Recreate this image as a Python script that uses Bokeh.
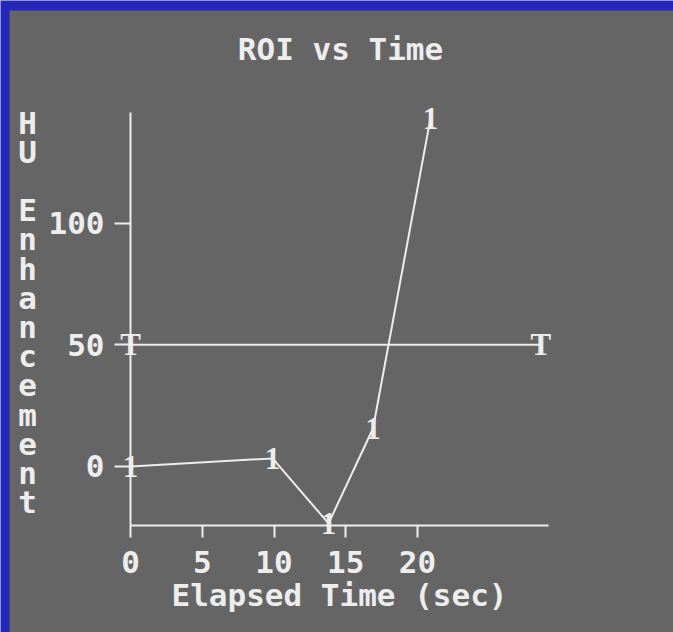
from bokeh.plotting import figure
from bokeh.models import ColumnDataSource, LabelSet, Label, FixedTicker, Range1d, BoxAnnotation
from bokeh.embed import file_html
from bokeh.resources import INLINE

# ---- data ----
title_text = "ROI vs Time"
x_label = "Elapsed Time (sec)"
y_label = "HU Enhancement"

time_s = [0, 9.9, 13.8, 16.9, 20.9]
roi_hu = [0, 3.3, -23.4, 15.6, 142.9]
roi_marker = "1"

thr_time = [0, 28.6]
thr_hu = [50, 50]
thr_marker = "T"

x_ticks = [0, 5, 10, 15, 20]
y_ticks = [0, 50, 100]
x_axis_span = (0, 29.13)
y_axis_span = (-24.2, 145.4)

# ---- style ----
BG = "#656565"
BLUE = "#2626b8"
FG = "#ededed"
FONT = "DejaVu Sans Mono"
FS = "31px"
W, H = 673, 632

# the frame fills the whole canvas; axes are placed with fixed_location
p = figure(width=W, height=H, min_border=0,
           x_range=Range1d(-9.06, 37.84), y_range=Range1d(-68.2, 191.4),
           output_backend="svg", toolbar_location=None,
           background_fill_color=BLUE, border_fill_color=BLUE,
           outline_line_color=None)
p.grid.visible = False

# grey panel inside the blue border
p.add_layout(BoxAnnotation(left=-8.43, top=187.3, fill_color=BG, fill_alpha=1.0,
                           line_color=None, level="underlay"))

xa = p.xaxis[0]
ya = p.yaxis[0]
xa.fixed_location = y_axis_span[0]
ya.fixed_location = x_axis_span[0]
xa.bounds = x_axis_span
ya.bounds = y_axis_span

for ax in (xa, ya):
    ax.axis_line_color = FG
    ax.axis_line_width = 2
    ax.major_tick_line_color = FG
    ax.major_tick_line_width = 2
    ax.minor_tick_line_color = None
    ax.major_tick_in = 0
    ax.major_label_text_font = FONT
    ax.major_label_text_font_style = "bold"
    ax.major_label_text_font_size = FS
    ax.major_label_text_color = FG

xa.major_tick_out = 12
xa.major_label_standoff = 14
ya.major_tick_out = 16
ya.major_label_standoff = 10

xa.ticker = FixedTicker(ticks=x_ticks)
ya.ticker = FixedTicker(ticks=y_ticks)

xa.axis_label = x_label
xa.axis_label_text_font = FONT
xa.axis_label_text_font_style = "bold"
xa.axis_label_text_font_size = FS
xa.axis_label_text_color = FG
xa.axis_label_standoff = 0

# series lines
p.line(time_s, roi_hu, line_color=FG, line_width=2)
p.line(thr_time, thr_hu, line_color=FG, line_width=2)

# point markers drawn as characters
roi_src = ColumnDataSource(dict(x=time_s, y=roi_hu, t=[roi_marker] * len(time_s)))
thr_src = ColumnDataSource(dict(x=thr_time, y=thr_hu, t=[thr_marker] * len(thr_time)))
for src in (roi_src, thr_src):
    p.add_layout(LabelSet(x="x", y="y", text="t", source=src,
                          text_align="center", text_baseline="middle",
                          text_font=FONT, text_font_style="bold",
                          text_font_size=FS, text_color=FG))

# title
p.add_layout(Label(x=340, y=H - 48, x_units="screen", y_units="screen",
                   text=title_text, text_align="center", text_baseline="middle",
                   text_font=FONT, text_font_style="bold",
                   text_font_size=FS, text_color=FG))

# stacked vertical y-axis label
for i, ch in enumerate(y_label):
    if ch == " ":
        continue
    p.add_layout(Label(x=27, y=H - 122 - 29.2 * i, x_units="screen", y_units="screen",
                       text=ch, text_align="center", text_baseline="middle",
                       text_font=FONT, text_font_style="bold",
                       text_font_size=FS, text_color=FG))

open("out.html", "w").write(file_html(p, INLINE))
